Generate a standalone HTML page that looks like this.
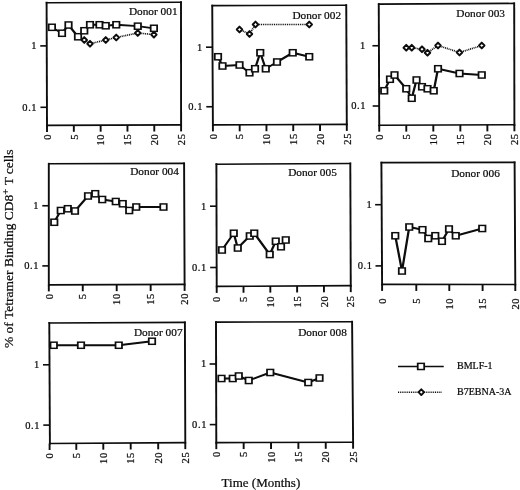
<!DOCTYPE html>
<html><head><meta charset="utf-8"><title>Tetramer binding</title>
<style>
html,body{margin:0;padding:0;background:#fff;}
body{width:520px;height:490px;overflow:hidden;font-family:"Liberation Serif",serif;}
svg{display:block;}
text{stroke:#0a0a0a;stroke-width:0.22px;}
</style></head><body>
<svg width="520" height="490" viewBox="0 0 520 490">
<rect width="520" height="490" fill="#fff"/>
<defs><filter id="soft" x="0" y="0" width="520" height="490" filterUnits="userSpaceOnUse"><feGaussianBlur stdDeviation="0.28"/></filter></defs>
<g filter="url(#soft)" font-family="Liberation Serif, serif" fill="#0a0a0a" stroke="none">
<rect width="520" height="490" fill="#fff"/>
<line x1="46.6" y1="2.7" x2="181.0" y2="2.3" stroke="#0a0a0a" stroke-width="1.6" stroke-linecap="square"/>
<line x1="47.0" y1="125.4" x2="181.1" y2="124.9" stroke="#0a0a0a" stroke-width="1.6" stroke-linecap="square"/>
<line x1="46.6" y1="2.7" x2="47.0" y2="125.4" stroke="#0a0a0a" stroke-width="1.9" stroke-linecap="square"/>
<line x1="181.0" y1="2.3" x2="181.1" y2="124.9" stroke="#0a0a0a" stroke-width="1.9" stroke-linecap="square"/>
<line x1="40.24" y1="45.9" x2="46.74" y2="45.9" stroke="#0a0a0a" stroke-width="1.6"/>
<text x="37.04" y="49.30" font-size="10.5" letter-spacing="0.6" text-anchor="end">1</text>
<line x1="40.44" y1="107.3" x2="46.94" y2="107.3" stroke="#0a0a0a" stroke-width="1.6"/>
<text x="37.24" y="110.70" font-size="10.5" letter-spacing="0.6" text-anchor="end">0.1</text>
<line x1="47.00" y1="125.40" x2="47.00" y2="131.90" stroke="#0a0a0a" stroke-width="1.9"/>
<text transform="translate(50.70,134.00) rotate(-90)" font-size="10.5" letter-spacing="0.6" text-anchor="end">0</text>
<line x1="73.82" y1="125.30" x2="73.82" y2="131.80" stroke="#0a0a0a" stroke-width="1.9"/>
<text transform="translate(77.52,133.90) rotate(-90)" font-size="10.5" letter-spacing="0.6" text-anchor="end">5</text>
<line x1="100.64" y1="125.20" x2="100.64" y2="131.70" stroke="#0a0a0a" stroke-width="1.9"/>
<text transform="translate(104.34,133.80) rotate(-90)" font-size="10.5" letter-spacing="0.6" text-anchor="end">10</text>
<line x1="127.46" y1="125.10" x2="127.46" y2="131.60" stroke="#0a0a0a" stroke-width="1.9"/>
<text transform="translate(131.16,133.70) rotate(-90)" font-size="10.5" letter-spacing="0.6" text-anchor="end">15</text>
<line x1="154.28" y1="125.00" x2="154.28" y2="131.50" stroke="#0a0a0a" stroke-width="1.9"/>
<text transform="translate(157.98,133.60) rotate(-90)" font-size="10.5" letter-spacing="0.6" text-anchor="end">20</text>
<line x1="181.10" y1="124.90" x2="181.10" y2="131.40" stroke="#0a0a0a" stroke-width="1.9"/>
<text transform="translate(184.80,133.50) rotate(-90)" font-size="10.5" letter-spacing="0.6" text-anchor="end">25</text>
<text x="128.90" y="15.3" font-size="11.3">Donor 001</text>
<line x1="84.25" y1="40" x2="90" y2="43.75" stroke="#0a0a0a" stroke-width="1.76" stroke-dasharray="1.0 0.85"/><line x1="90" y1="43.75" x2="105.75" y2="40" stroke="#0a0a0a" stroke-width="1.67" stroke-dasharray="1.0 0.85"/><line x1="105.75" y1="40" x2="116.25" y2="37.5" stroke="#0a0a0a" stroke-width="1.67" stroke-dasharray="1.0 0.85"/><line x1="116.25" y1="37.5" x2="137.75" y2="33" stroke="#0a0a0a" stroke-width="1.66" stroke-dasharray="1.0 0.85"/><line x1="137.75" y1="33" x2="153.9" y2="34.6" stroke="#0a0a0a" stroke-width="1.63" stroke-dasharray="1.0 0.85"/>
<line x1="51.9" y1="27.3" x2="62" y2="33.25" stroke="#0a0a0a" stroke-width="2.03" stroke-linecap="round"/><line x1="62" y1="33.25" x2="68.5" y2="25.0" stroke="#0a0a0a" stroke-width="2.15" stroke-linecap="round"/><line x1="68.5" y1="25.0" x2="78" y2="36.75" stroke="#0a0a0a" stroke-width="2.15" stroke-linecap="round"/><line x1="78" y1="36.75" x2="84.25" y2="30.75" stroke="#0a0a0a" stroke-width="2.11" stroke-linecap="round"/><line x1="84.25" y1="30.75" x2="90" y2="24.75" stroke="#0a0a0a" stroke-width="2.12" stroke-linecap="round"/><line x1="90" y1="24.75" x2="99.5" y2="24.75" stroke="#0a0a0a" stroke-width="1.80" stroke-linecap="round"/><line x1="99.5" y1="24.75" x2="105.75" y2="25.75" stroke="#0a0a0a" stroke-width="1.87" stroke-linecap="round"/><line x1="105.75" y1="25.75" x2="116.25" y2="24.75" stroke="#0a0a0a" stroke-width="1.84" stroke-linecap="round"/><line x1="116.25" y1="24.75" x2="137.75" y2="26.2" stroke="#0a0a0a" stroke-width="1.83" stroke-linecap="round"/><line x1="137.75" y1="26.2" x2="153.9" y2="28.3" stroke="#0a0a0a" stroke-width="1.86" stroke-linecap="round"/>
<path d="M81.50,40.00 L84.25,37.10 L87.00,40.00 L84.25,42.90 Z" fill="#fff" stroke="#0a0a0a" stroke-width="1.9" stroke-linejoin="round"/>
<path d="M87.25,43.75 L90.00,40.85 L92.75,43.75 L90.00,46.65 Z" fill="#fff" stroke="#0a0a0a" stroke-width="1.9" stroke-linejoin="round"/>
<path d="M103.00,40.00 L105.75,37.10 L108.50,40.00 L105.75,42.90 Z" fill="#fff" stroke="#0a0a0a" stroke-width="1.9" stroke-linejoin="round"/>
<path d="M113.50,37.50 L116.25,34.60 L119.00,37.50 L116.25,40.40 Z" fill="#fff" stroke="#0a0a0a" stroke-width="1.9" stroke-linejoin="round"/>
<path d="M135.00,33.00 L137.75,30.10 L140.50,33.00 L137.75,35.90 Z" fill="#fff" stroke="#0a0a0a" stroke-width="1.9" stroke-linejoin="round"/>
<path d="M151.15,34.60 L153.90,31.70 L156.65,34.60 L153.90,37.50 Z" fill="#fff" stroke="#0a0a0a" stroke-width="1.9" stroke-linejoin="round"/>
<rect x="47.80" y="23.50" width="8.20" height="7.60" fill="#0a0a0a"/><rect x="49.55" y="24.95" width="4.7" height="4.7" fill="#fff"/>
<rect x="57.90" y="29.45" width="8.20" height="7.60" fill="#0a0a0a"/><rect x="59.65" y="30.90" width="4.7" height="4.7" fill="#fff"/>
<rect x="64.40" y="21.20" width="8.20" height="7.60" fill="#0a0a0a"/><rect x="66.15" y="22.65" width="4.7" height="4.7" fill="#fff"/>
<rect x="73.90" y="32.95" width="8.20" height="7.60" fill="#0a0a0a"/><rect x="75.65" y="34.40" width="4.7" height="4.7" fill="#fff"/>
<rect x="80.15" y="26.95" width="8.20" height="7.60" fill="#0a0a0a"/><rect x="81.90" y="28.40" width="4.7" height="4.7" fill="#fff"/>
<rect x="85.90" y="20.95" width="8.20" height="7.60" fill="#0a0a0a"/><rect x="87.65" y="22.40" width="4.7" height="4.7" fill="#fff"/>
<rect x="95.40" y="20.95" width="8.20" height="7.60" fill="#0a0a0a"/><rect x="97.15" y="22.40" width="4.7" height="4.7" fill="#fff"/>
<rect x="101.65" y="21.95" width="8.20" height="7.60" fill="#0a0a0a"/><rect x="103.40" y="23.40" width="4.7" height="4.7" fill="#fff"/>
<rect x="112.15" y="20.95" width="8.20" height="7.60" fill="#0a0a0a"/><rect x="113.90" y="22.40" width="4.7" height="4.7" fill="#fff"/>
<rect x="133.65" y="22.40" width="8.20" height="7.60" fill="#0a0a0a"/><rect x="135.40" y="23.85" width="4.7" height="4.7" fill="#fff"/>
<rect x="149.80" y="24.50" width="8.20" height="7.60" fill="#0a0a0a"/><rect x="151.55" y="25.95" width="4.7" height="4.7" fill="#fff"/>
<line x1="212.25" y1="5.6" x2="346.25" y2="5.25" stroke="#0a0a0a" stroke-width="1.6" stroke-linecap="square"/>
<line x1="212.9" y1="124.9" x2="346.8" y2="124.4" stroke="#0a0a0a" stroke-width="1.6" stroke-linecap="square"/>
<line x1="212.25" y1="5.6" x2="212.9" y2="124.9" stroke="#0a0a0a" stroke-width="1.9" stroke-linecap="square"/>
<line x1="346.25" y1="5.25" x2="346.8" y2="124.4" stroke="#0a0a0a" stroke-width="1.9" stroke-linecap="square"/>
<line x1="205.98" y1="47.2" x2="212.48" y2="47.2" stroke="#0a0a0a" stroke-width="1.6"/>
<text x="202.78" y="50.60" font-size="10.5" letter-spacing="0.6" text-anchor="end">1</text>
<line x1="206.30" y1="106.75" x2="212.80" y2="106.75" stroke="#0a0a0a" stroke-width="1.6"/>
<text x="203.10" y="110.15" font-size="10.5" letter-spacing="0.6" text-anchor="end">0.1</text>
<line x1="212.90" y1="124.90" x2="212.90" y2="131.40" stroke="#0a0a0a" stroke-width="1.9"/>
<text transform="translate(216.60,133.50) rotate(-90)" font-size="10.5" letter-spacing="0.6" text-anchor="end">0</text>
<line x1="239.68" y1="124.80" x2="239.68" y2="131.30" stroke="#0a0a0a" stroke-width="1.9"/>
<text transform="translate(243.38,133.40) rotate(-90)" font-size="10.5" letter-spacing="0.6" text-anchor="end">5</text>
<line x1="266.46" y1="124.70" x2="266.46" y2="131.20" stroke="#0a0a0a" stroke-width="1.9"/>
<text transform="translate(270.16,133.30) rotate(-90)" font-size="10.5" letter-spacing="0.6" text-anchor="end">10</text>
<line x1="293.24" y1="124.60" x2="293.24" y2="131.10" stroke="#0a0a0a" stroke-width="1.9"/>
<text transform="translate(296.94,133.20) rotate(-90)" font-size="10.5" letter-spacing="0.6" text-anchor="end">15</text>
<line x1="320.02" y1="124.50" x2="320.02" y2="131.00" stroke="#0a0a0a" stroke-width="1.9"/>
<text transform="translate(323.72,133.10) rotate(-90)" font-size="10.5" letter-spacing="0.6" text-anchor="end">20</text>
<line x1="346.80" y1="124.40" x2="346.80" y2="130.90" stroke="#0a0a0a" stroke-width="1.9"/>
<text transform="translate(350.50,133.00) rotate(-90)" font-size="10.5" letter-spacing="0.6" text-anchor="end">25</text>
<text x="292.40" y="18.6" font-size="11.3">Donor 002</text>
<line x1="239.5" y1="29.5" x2="249.5" y2="34" stroke="#0a0a0a" stroke-width="1.72" stroke-dasharray="1.0 0.85"/><line x1="249.5" y1="34" x2="255.5" y2="24.5" stroke="#0a0a0a" stroke-width="1.85" stroke-dasharray="1.0 0.85"/><line x1="255.5" y1="24.5" x2="309.25" y2="24.5" stroke="#0a0a0a" stroke-width="1.60" stroke-dasharray="1.0 0.85"/>
<line x1="218" y1="56.75" x2="222.5" y2="66" stroke="#0a0a0a" stroke-width="2.20" stroke-linecap="round"/><line x1="222.5" y1="66" x2="239.5" y2="65" stroke="#0a0a0a" stroke-width="1.83" stroke-linecap="round"/><line x1="239.5" y1="65" x2="249.5" y2="72.75" stroke="#0a0a0a" stroke-width="2.08" stroke-linecap="round"/><line x1="249.5" y1="72.75" x2="255" y2="68.75" stroke="#0a0a0a" stroke-width="2.06" stroke-linecap="round"/><line x1="255" y1="68.75" x2="260.25" y2="52.75" stroke="#0a0a0a" stroke-width="2.23" stroke-linecap="round"/><line x1="260.25" y1="52.75" x2="265.75" y2="68.75" stroke="#0a0a0a" stroke-width="2.23" stroke-linecap="round"/><line x1="265.75" y1="68.75" x2="277" y2="62" stroke="#0a0a0a" stroke-width="2.03" stroke-linecap="round"/><line x1="277" y1="62" x2="292.75" y2="52.75" stroke="#0a0a0a" stroke-width="2.03" stroke-linecap="round"/><line x1="292.75" y1="52.75" x2="309.25" y2="56.75" stroke="#0a0a0a" stroke-width="1.91" stroke-linecap="round"/>
<path d="M236.75,29.50 L239.50,26.60 L242.25,29.50 L239.50,32.40 Z" fill="#fff" stroke="#0a0a0a" stroke-width="1.9" stroke-linejoin="round"/>
<path d="M246.75,34.00 L249.50,31.10 L252.25,34.00 L249.50,36.90 Z" fill="#fff" stroke="#0a0a0a" stroke-width="1.9" stroke-linejoin="round"/>
<path d="M252.75,24.50 L255.50,21.60 L258.25,24.50 L255.50,27.40 Z" fill="#fff" stroke="#0a0a0a" stroke-width="1.9" stroke-linejoin="round"/>
<path d="M306.50,24.50 L309.25,21.60 L312.00,24.50 L309.25,27.40 Z" fill="#fff" stroke="#0a0a0a" stroke-width="1.9" stroke-linejoin="round"/>
<rect x="213.90" y="52.95" width="8.20" height="7.60" fill="#0a0a0a"/><rect x="215.65" y="54.40" width="4.7" height="4.7" fill="#fff"/>
<rect x="218.40" y="62.20" width="8.20" height="7.60" fill="#0a0a0a"/><rect x="220.15" y="63.65" width="4.7" height="4.7" fill="#fff"/>
<rect x="235.40" y="61.20" width="8.20" height="7.60" fill="#0a0a0a"/><rect x="237.15" y="62.65" width="4.7" height="4.7" fill="#fff"/>
<rect x="245.40" y="68.95" width="8.20" height="7.60" fill="#0a0a0a"/><rect x="247.15" y="70.40" width="4.7" height="4.7" fill="#fff"/>
<rect x="250.90" y="64.95" width="8.20" height="7.60" fill="#0a0a0a"/><rect x="252.65" y="66.40" width="4.7" height="4.7" fill="#fff"/>
<rect x="256.15" y="48.95" width="8.20" height="7.60" fill="#0a0a0a"/><rect x="257.90" y="50.40" width="4.7" height="4.7" fill="#fff"/>
<rect x="261.65" y="64.95" width="8.20" height="7.60" fill="#0a0a0a"/><rect x="263.40" y="66.40" width="4.7" height="4.7" fill="#fff"/>
<rect x="272.90" y="58.20" width="8.20" height="7.60" fill="#0a0a0a"/><rect x="274.65" y="59.65" width="4.7" height="4.7" fill="#fff"/>
<rect x="288.65" y="48.95" width="8.20" height="7.60" fill="#0a0a0a"/><rect x="290.40" y="50.40" width="4.7" height="4.7" fill="#fff"/>
<rect x="305.15" y="52.95" width="8.20" height="7.60" fill="#0a0a0a"/><rect x="306.90" y="54.40" width="4.7" height="4.7" fill="#fff"/>
<line x1="378.75" y1="4.1" x2="514.2" y2="3.4" stroke="#0a0a0a" stroke-width="1.6" stroke-linecap="square"/>
<line x1="379.25" y1="125.2" x2="514.4" y2="124.8" stroke="#0a0a0a" stroke-width="1.6" stroke-linecap="square"/>
<line x1="378.75" y1="4.1" x2="379.25" y2="125.2" stroke="#0a0a0a" stroke-width="1.9" stroke-linecap="square"/>
<line x1="514.2" y1="3.4" x2="514.4" y2="124.8" stroke="#0a0a0a" stroke-width="1.9" stroke-linecap="square"/>
<line x1="372.42" y1="45.75" x2="378.92" y2="45.75" stroke="#0a0a0a" stroke-width="1.6"/>
<text x="365.92" y="49.15" font-size="10.5" letter-spacing="0.6" text-anchor="end">1</text>
<line x1="372.67" y1="106" x2="379.17" y2="106" stroke="#0a0a0a" stroke-width="1.6"/>
<text x="366.17" y="109.40" font-size="10.5" letter-spacing="0.6" text-anchor="end">0.1</text>
<line x1="379.25" y1="125.20" x2="379.25" y2="131.70" stroke="#0a0a0a" stroke-width="1.9"/>
<text transform="translate(382.95,133.80) rotate(-90)" font-size="10.5" letter-spacing="0.6" text-anchor="end">0</text>
<line x1="406.28" y1="125.12" x2="406.28" y2="131.62" stroke="#0a0a0a" stroke-width="1.9"/>
<text transform="translate(409.98,133.72) rotate(-90)" font-size="10.5" letter-spacing="0.6" text-anchor="end">5</text>
<line x1="433.31" y1="125.04" x2="433.31" y2="131.54" stroke="#0a0a0a" stroke-width="1.9"/>
<text transform="translate(437.01,133.64) rotate(-90)" font-size="10.5" letter-spacing="0.6" text-anchor="end">10</text>
<line x1="460.34" y1="124.96" x2="460.34" y2="131.46" stroke="#0a0a0a" stroke-width="1.9"/>
<text transform="translate(464.04,133.56) rotate(-90)" font-size="10.5" letter-spacing="0.6" text-anchor="end">15</text>
<line x1="487.37" y1="124.88" x2="487.37" y2="131.38" stroke="#0a0a0a" stroke-width="1.9"/>
<text transform="translate(491.07,133.48) rotate(-90)" font-size="10.5" letter-spacing="0.6" text-anchor="end">20</text>
<line x1="514.40" y1="124.80" x2="514.40" y2="131.30" stroke="#0a0a0a" stroke-width="1.9"/>
<text transform="translate(518.10,133.40) rotate(-90)" font-size="10.5" letter-spacing="0.6" text-anchor="end">25</text>
<text x="456.30" y="16.6" font-size="11.3">Donor 003</text>
<line x1="406.25" y1="47.75" x2="411.75" y2="47.75" stroke="#0a0a0a" stroke-width="1.60" stroke-dasharray="1.0 0.85"/><line x1="411.75" y1="47.75" x2="422" y2="49.25" stroke="#0a0a0a" stroke-width="1.64" stroke-dasharray="1.0 0.85"/><line x1="422" y1="49.25" x2="427.5" y2="52.75" stroke="#0a0a0a" stroke-width="1.76" stroke-dasharray="1.0 0.85"/><line x1="427.5" y1="52.75" x2="438" y2="45.5" stroke="#0a0a0a" stroke-width="1.77" stroke-dasharray="1.0 0.85"/><line x1="438" y1="45.5" x2="459.5" y2="52.5" stroke="#0a0a0a" stroke-width="1.69" stroke-dasharray="1.0 0.85"/><line x1="459.5" y1="52.5" x2="481.75" y2="45.5" stroke="#0a0a0a" stroke-width="1.69" stroke-dasharray="1.0 0.85"/>
<line x1="384.25" y1="90.75" x2="390" y2="79.25" stroke="#0a0a0a" stroke-width="2.20" stroke-linecap="round"/><line x1="390" y1="79.25" x2="394.5" y2="75" stroke="#0a0a0a" stroke-width="2.11" stroke-linecap="round"/><line x1="394.5" y1="75" x2="406.25" y2="88.75" stroke="#0a0a0a" stroke-width="2.14" stroke-linecap="round"/><line x1="406.25" y1="88.75" x2="411.75" y2="98.25" stroke="#0a0a0a" stroke-width="2.19" stroke-linecap="round"/><line x1="411.75" y1="98.25" x2="416.5" y2="80" stroke="#0a0a0a" stroke-width="2.24" stroke-linecap="round"/><line x1="416.5" y1="80" x2="422" y2="86.75" stroke="#0a0a0a" stroke-width="2.15" stroke-linecap="round"/><line x1="422" y1="86.75" x2="427.5" y2="88.75" stroke="#0a0a0a" stroke-width="1.95" stroke-linecap="round"/><line x1="427.5" y1="88.75" x2="433.75" y2="90.75" stroke="#0a0a0a" stroke-width="1.94" stroke-linecap="round"/><line x1="433.75" y1="90.75" x2="438" y2="68.75" stroke="#0a0a0a" stroke-width="2.24" stroke-linecap="round"/><line x1="438" y1="68.75" x2="459.5" y2="73.5" stroke="#0a0a0a" stroke-width="1.90" stroke-linecap="round"/><line x1="459.5" y1="73.5" x2="481.75" y2="75" stroke="#0a0a0a" stroke-width="1.83" stroke-linecap="round"/>
<path d="M403.50,47.75 L406.25,44.85 L409.00,47.75 L406.25,50.65 Z" fill="#fff" stroke="#0a0a0a" stroke-width="1.9" stroke-linejoin="round"/>
<path d="M409.00,47.75 L411.75,44.85 L414.50,47.75 L411.75,50.65 Z" fill="#fff" stroke="#0a0a0a" stroke-width="1.9" stroke-linejoin="round"/>
<path d="M419.25,49.25 L422.00,46.35 L424.75,49.25 L422.00,52.15 Z" fill="#fff" stroke="#0a0a0a" stroke-width="1.9" stroke-linejoin="round"/>
<path d="M424.75,52.75 L427.50,49.85 L430.25,52.75 L427.50,55.65 Z" fill="#fff" stroke="#0a0a0a" stroke-width="1.9" stroke-linejoin="round"/>
<path d="M435.25,45.50 L438.00,42.60 L440.75,45.50 L438.00,48.40 Z" fill="#fff" stroke="#0a0a0a" stroke-width="1.9" stroke-linejoin="round"/>
<path d="M456.75,52.50 L459.50,49.60 L462.25,52.50 L459.50,55.40 Z" fill="#fff" stroke="#0a0a0a" stroke-width="1.9" stroke-linejoin="round"/>
<path d="M479.00,45.50 L481.75,42.60 L484.50,45.50 L481.75,48.40 Z" fill="#fff" stroke="#0a0a0a" stroke-width="1.9" stroke-linejoin="round"/>
<rect x="380.15" y="86.95" width="8.20" height="7.60" fill="#0a0a0a"/><rect x="381.90" y="88.40" width="4.7" height="4.7" fill="#fff"/>
<rect x="385.90" y="75.45" width="8.20" height="7.60" fill="#0a0a0a"/><rect x="387.65" y="76.90" width="4.7" height="4.7" fill="#fff"/>
<rect x="390.40" y="71.20" width="8.20" height="7.60" fill="#0a0a0a"/><rect x="392.15" y="72.65" width="4.7" height="4.7" fill="#fff"/>
<rect x="402.15" y="84.95" width="8.20" height="7.60" fill="#0a0a0a"/><rect x="403.90" y="86.40" width="4.7" height="4.7" fill="#fff"/>
<rect x="407.65" y="94.45" width="8.20" height="7.60" fill="#0a0a0a"/><rect x="409.40" y="95.90" width="4.7" height="4.7" fill="#fff"/>
<rect x="412.40" y="76.20" width="8.20" height="7.60" fill="#0a0a0a"/><rect x="414.15" y="77.65" width="4.7" height="4.7" fill="#fff"/>
<rect x="417.90" y="82.95" width="8.20" height="7.60" fill="#0a0a0a"/><rect x="419.65" y="84.40" width="4.7" height="4.7" fill="#fff"/>
<rect x="423.40" y="84.95" width="8.20" height="7.60" fill="#0a0a0a"/><rect x="425.15" y="86.40" width="4.7" height="4.7" fill="#fff"/>
<rect x="429.65" y="86.95" width="8.20" height="7.60" fill="#0a0a0a"/><rect x="431.40" y="88.40" width="4.7" height="4.7" fill="#fff"/>
<rect x="433.90" y="64.95" width="8.20" height="7.60" fill="#0a0a0a"/><rect x="435.65" y="66.40" width="4.7" height="4.7" fill="#fff"/>
<rect x="455.40" y="69.70" width="8.20" height="7.60" fill="#0a0a0a"/><rect x="457.15" y="71.15" width="4.7" height="4.7" fill="#fff"/>
<rect x="477.65" y="71.20" width="8.20" height="7.60" fill="#0a0a0a"/><rect x="479.40" y="72.65" width="4.7" height="4.7" fill="#fff"/>
<line x1="48.8" y1="163.8" x2="184.1" y2="163.4" stroke="#0a0a0a" stroke-width="1.6" stroke-linecap="square"/>
<line x1="48.8" y1="284.9" x2="184.6" y2="284.4" stroke="#0a0a0a" stroke-width="1.6" stroke-linecap="square"/>
<line x1="48.8" y1="163.8" x2="48.8" y2="284.9" stroke="#0a0a0a" stroke-width="1.9" stroke-linecap="square"/>
<line x1="184.1" y1="163.4" x2="184.6" y2="284.4" stroke="#0a0a0a" stroke-width="1.9" stroke-linecap="square"/>
<line x1="42.30" y1="205.75" x2="48.80" y2="205.75" stroke="#0a0a0a" stroke-width="1.6"/>
<text x="39.10" y="209.15" font-size="10.5" letter-spacing="0.6" text-anchor="end">1</text>
<line x1="42.30" y1="265.9" x2="48.80" y2="265.9" stroke="#0a0a0a" stroke-width="1.6"/>
<text x="39.10" y="269.30" font-size="10.5" letter-spacing="0.6" text-anchor="end">0.1</text>
<line x1="48.80" y1="284.90" x2="48.80" y2="291.40" stroke="#0a0a0a" stroke-width="1.9"/>
<text transform="translate(52.50,293.50) rotate(-90)" font-size="10.5" letter-spacing="0.6" text-anchor="end">0</text>
<line x1="82.75" y1="284.77" x2="82.75" y2="291.27" stroke="#0a0a0a" stroke-width="1.9"/>
<text transform="translate(86.45,293.37) rotate(-90)" font-size="10.5" letter-spacing="0.6" text-anchor="end">5</text>
<line x1="116.70" y1="284.65" x2="116.70" y2="291.15" stroke="#0a0a0a" stroke-width="1.9"/>
<text transform="translate(120.40,293.25) rotate(-90)" font-size="10.5" letter-spacing="0.6" text-anchor="end">10</text>
<line x1="150.65" y1="284.52" x2="150.65" y2="291.02" stroke="#0a0a0a" stroke-width="1.9"/>
<text transform="translate(154.35,293.12) rotate(-90)" font-size="10.5" letter-spacing="0.6" text-anchor="end">15</text>
<line x1="184.60" y1="284.40" x2="184.60" y2="290.90" stroke="#0a0a0a" stroke-width="1.9"/>
<text transform="translate(188.30,293.00) rotate(-90)" font-size="10.5" letter-spacing="0.6" text-anchor="end">20</text>
<text x="130.20" y="174.9" font-size="11.3">Donor 004</text>
<line x1="54.25" y1="222.25" x2="60.75" y2="210.5" stroke="#0a0a0a" stroke-width="2.19" stroke-linecap="round"/><line x1="60.75" y1="210.5" x2="67.75" y2="208.75" stroke="#0a0a0a" stroke-width="1.91" stroke-linecap="round"/><line x1="67.75" y1="208.75" x2="75" y2="211" stroke="#0a0a0a" stroke-width="1.93" stroke-linecap="round"/><line x1="75" y1="211" x2="88" y2="196" stroke="#0a0a0a" stroke-width="2.14" stroke-linecap="round"/><line x1="88" y1="196" x2="95.25" y2="193.75" stroke="#0a0a0a" stroke-width="1.93" stroke-linecap="round"/><line x1="95.25" y1="193.75" x2="102.25" y2="199.5" stroke="#0a0a0a" stroke-width="2.09" stroke-linecap="round"/><line x1="102.25" y1="199.5" x2="115.75" y2="201.5" stroke="#0a0a0a" stroke-width="1.87" stroke-linecap="round"/><line x1="115.75" y1="201.5" x2="122.75" y2="203.75" stroke="#0a0a0a" stroke-width="1.94" stroke-linecap="round"/><line x1="122.75" y1="203.75" x2="129.25" y2="210.5" stroke="#0a0a0a" stroke-width="2.12" stroke-linecap="round"/><line x1="129.25" y1="210.5" x2="136.25" y2="207" stroke="#0a0a0a" stroke-width="2.00" stroke-linecap="round"/><line x1="136.25" y1="207" x2="163.5" y2="207" stroke="#0a0a0a" stroke-width="1.80" stroke-linecap="round"/>
<rect x="50.15" y="218.45" width="8.20" height="7.60" fill="#0a0a0a"/><rect x="51.90" y="219.90" width="4.7" height="4.7" fill="#fff"/>
<rect x="56.65" y="206.70" width="8.20" height="7.60" fill="#0a0a0a"/><rect x="58.40" y="208.15" width="4.7" height="4.7" fill="#fff"/>
<rect x="63.65" y="204.95" width="8.20" height="7.60" fill="#0a0a0a"/><rect x="65.40" y="206.40" width="4.7" height="4.7" fill="#fff"/>
<rect x="70.90" y="207.20" width="8.20" height="7.60" fill="#0a0a0a"/><rect x="72.65" y="208.65" width="4.7" height="4.7" fill="#fff"/>
<rect x="83.90" y="192.20" width="8.20" height="7.60" fill="#0a0a0a"/><rect x="85.65" y="193.65" width="4.7" height="4.7" fill="#fff"/>
<rect x="91.15" y="189.95" width="8.20" height="7.60" fill="#0a0a0a"/><rect x="92.90" y="191.40" width="4.7" height="4.7" fill="#fff"/>
<rect x="98.15" y="195.70" width="8.20" height="7.60" fill="#0a0a0a"/><rect x="99.90" y="197.15" width="4.7" height="4.7" fill="#fff"/>
<rect x="111.65" y="197.70" width="8.20" height="7.60" fill="#0a0a0a"/><rect x="113.40" y="199.15" width="4.7" height="4.7" fill="#fff"/>
<rect x="118.65" y="199.95" width="8.20" height="7.60" fill="#0a0a0a"/><rect x="120.40" y="201.40" width="4.7" height="4.7" fill="#fff"/>
<rect x="125.15" y="206.70" width="8.20" height="7.60" fill="#0a0a0a"/><rect x="126.90" y="208.15" width="4.7" height="4.7" fill="#fff"/>
<rect x="132.15" y="203.20" width="8.20" height="7.60" fill="#0a0a0a"/><rect x="133.90" y="204.65" width="4.7" height="4.7" fill="#fff"/>
<rect x="159.40" y="203.20" width="8.20" height="7.60" fill="#0a0a0a"/><rect x="161.15" y="204.65" width="4.7" height="4.7" fill="#fff"/>
<line x1="216.4" y1="164.2" x2="350.3" y2="163.45" stroke="#0a0a0a" stroke-width="1.6" stroke-linecap="square"/>
<line x1="216.7" y1="286.4" x2="350.75" y2="285.65" stroke="#0a0a0a" stroke-width="1.6" stroke-linecap="square"/>
<line x1="216.4" y1="164.2" x2="216.7" y2="286.4" stroke="#0a0a0a" stroke-width="1.9" stroke-linecap="square"/>
<line x1="350.3" y1="163.45" x2="350.75" y2="285.65" stroke="#0a0a0a" stroke-width="1.9" stroke-linecap="square"/>
<line x1="210.00" y1="206.2" x2="216.50" y2="206.2" stroke="#0a0a0a" stroke-width="1.6"/>
<text x="206.80" y="209.60" font-size="10.5" letter-spacing="0.6" text-anchor="end">1</text>
<line x1="210.15" y1="267.5" x2="216.65" y2="267.5" stroke="#0a0a0a" stroke-width="1.6"/>
<text x="206.95" y="270.90" font-size="10.5" letter-spacing="0.6" text-anchor="end">0.1</text>
<line x1="216.70" y1="286.40" x2="216.70" y2="292.90" stroke="#0a0a0a" stroke-width="1.9"/>
<text transform="translate(220.40,296.20) rotate(-90)" font-size="10.5" letter-spacing="0.6" text-anchor="end">0</text>
<line x1="243.51" y1="286.25" x2="243.51" y2="292.75" stroke="#0a0a0a" stroke-width="1.9"/>
<text transform="translate(247.21,296.05) rotate(-90)" font-size="10.5" letter-spacing="0.6" text-anchor="end">5</text>
<line x1="270.32" y1="286.10" x2="270.32" y2="292.60" stroke="#0a0a0a" stroke-width="1.9"/>
<text transform="translate(274.02,295.90) rotate(-90)" font-size="10.5" letter-spacing="0.6" text-anchor="end">10</text>
<line x1="297.13" y1="285.95" x2="297.13" y2="292.45" stroke="#0a0a0a" stroke-width="1.9"/>
<text transform="translate(300.83,295.75) rotate(-90)" font-size="10.5" letter-spacing="0.6" text-anchor="end">15</text>
<line x1="323.94" y1="285.80" x2="323.94" y2="292.30" stroke="#0a0a0a" stroke-width="1.9"/>
<text transform="translate(327.64,295.60) rotate(-90)" font-size="10.5" letter-spacing="0.6" text-anchor="end">20</text>
<line x1="350.75" y1="285.65" x2="350.75" y2="292.15" stroke="#0a0a0a" stroke-width="1.9"/>
<text transform="translate(354.45,295.45) rotate(-90)" font-size="10.5" letter-spacing="0.6" text-anchor="end">25</text>
<text x="288.15" y="175.5" font-size="11.3">Donor 005</text>
<line x1="222" y1="250" x2="233.75" y2="233.25" stroke="#0a0a0a" stroke-width="2.17" stroke-linecap="round"/><line x1="233.75" y1="233.25" x2="237.75" y2="248" stroke="#0a0a0a" stroke-width="2.23" stroke-linecap="round"/><line x1="237.75" y1="248" x2="249.75" y2="236" stroke="#0a0a0a" stroke-width="2.12" stroke-linecap="round"/><line x1="249.75" y1="236" x2="254.25" y2="233.25" stroke="#0a0a0a" stroke-width="2.03" stroke-linecap="round"/><line x1="254.25" y1="233.25" x2="269.75" y2="254.5" stroke="#0a0a0a" stroke-width="2.16" stroke-linecap="round"/><line x1="269.75" y1="254.5" x2="275.75" y2="241.25" stroke="#0a0a0a" stroke-width="2.21" stroke-linecap="round"/><line x1="275.75" y1="241.25" x2="281" y2="246.75" stroke="#0a0a0a" stroke-width="2.13" stroke-linecap="round"/><line x1="281" y1="246.75" x2="285.75" y2="240" stroke="#0a0a0a" stroke-width="2.17" stroke-linecap="round"/>
<rect x="217.90" y="246.20" width="8.20" height="7.60" fill="#0a0a0a"/><rect x="219.65" y="247.65" width="4.7" height="4.7" fill="#fff"/>
<rect x="229.65" y="229.45" width="8.20" height="7.60" fill="#0a0a0a"/><rect x="231.40" y="230.90" width="4.7" height="4.7" fill="#fff"/>
<rect x="233.65" y="244.20" width="8.20" height="7.60" fill="#0a0a0a"/><rect x="235.40" y="245.65" width="4.7" height="4.7" fill="#fff"/>
<rect x="245.65" y="232.20" width="8.20" height="7.60" fill="#0a0a0a"/><rect x="247.40" y="233.65" width="4.7" height="4.7" fill="#fff"/>
<rect x="250.15" y="229.45" width="8.20" height="7.60" fill="#0a0a0a"/><rect x="251.90" y="230.90" width="4.7" height="4.7" fill="#fff"/>
<rect x="265.65" y="250.70" width="8.20" height="7.60" fill="#0a0a0a"/><rect x="267.40" y="252.15" width="4.7" height="4.7" fill="#fff"/>
<rect x="271.65" y="237.45" width="8.20" height="7.60" fill="#0a0a0a"/><rect x="273.40" y="238.90" width="4.7" height="4.7" fill="#fff"/>
<rect x="276.90" y="242.95" width="8.20" height="7.60" fill="#0a0a0a"/><rect x="278.65" y="244.40" width="4.7" height="4.7" fill="#fff"/>
<rect x="281.65" y="236.20" width="8.20" height="7.60" fill="#0a0a0a"/><rect x="283.40" y="237.65" width="4.7" height="4.7" fill="#fff"/>
<line x1="381.4" y1="162.6" x2="514.6" y2="162.4" stroke="#0a0a0a" stroke-width="1.6" stroke-linecap="square"/>
<line x1="382.1" y1="284.4" x2="515.3" y2="284.5" stroke="#0a0a0a" stroke-width="1.6" stroke-linecap="square"/>
<line x1="381.4" y1="162.6" x2="382.1" y2="284.4" stroke="#0a0a0a" stroke-width="1.9" stroke-linecap="square"/>
<line x1="514.6" y1="162.4" x2="515.3" y2="284.5" stroke="#0a0a0a" stroke-width="1.9" stroke-linecap="square"/>
<line x1="375.14" y1="204.7" x2="381.64" y2="204.7" stroke="#0a0a0a" stroke-width="1.6"/>
<text x="372.24" y="208.10" font-size="10.5" letter-spacing="0.6" text-anchor="end">1</text>
<line x1="375.49" y1="265.9" x2="381.99" y2="265.9" stroke="#0a0a0a" stroke-width="1.6"/>
<text x="372.59" y="269.30" font-size="10.5" letter-spacing="0.6" text-anchor="end">0.1</text>
<line x1="382.10" y1="284.40" x2="382.10" y2="290.90" stroke="#0a0a0a" stroke-width="1.9"/>
<text transform="translate(385.80,297.80) rotate(-90)" font-size="10.5" letter-spacing="0.6" text-anchor="end">0</text>
<line x1="416.30" y1="284.42" x2="416.30" y2="290.92" stroke="#0a0a0a" stroke-width="1.9"/>
<text transform="translate(420.00,297.82) rotate(-90)" font-size="10.5" letter-spacing="0.6" text-anchor="end">5</text>
<line x1="449.30" y1="284.45" x2="449.30" y2="290.95" stroke="#0a0a0a" stroke-width="1.9"/>
<text transform="translate(453.00,297.85) rotate(-90)" font-size="10.5" letter-spacing="0.6" text-anchor="end">10</text>
<line x1="482.60" y1="284.48" x2="482.60" y2="290.98" stroke="#0a0a0a" stroke-width="1.9"/>
<text transform="translate(486.30,297.88) rotate(-90)" font-size="10.5" letter-spacing="0.6" text-anchor="end">15</text>
<line x1="515.30" y1="284.50" x2="515.30" y2="291.00" stroke="#0a0a0a" stroke-width="1.9"/>
<text transform="translate(519.00,297.90) rotate(-90)" font-size="10.5" letter-spacing="0.6" text-anchor="end">20</text>
<text x="451.15" y="176.9" font-size="11.3">Donor 006</text>
<line x1="395.25" y1="235.75" x2="402" y2="271" stroke="#0a0a0a" stroke-width="2.24" stroke-linecap="round"/><line x1="402" y1="271" x2="409.25" y2="227" stroke="#0a0a0a" stroke-width="2.24" stroke-linecap="round"/><line x1="409.25" y1="227" x2="422.5" y2="229.75" stroke="#0a0a0a" stroke-width="1.89" stroke-linecap="round"/><line x1="422.5" y1="229.75" x2="428.25" y2="238.5" stroke="#0a0a0a" stroke-width="2.18" stroke-linecap="round"/><line x1="428.25" y1="238.5" x2="435.25" y2="235.75" stroke="#0a0a0a" stroke-width="1.96" stroke-linecap="round"/><line x1="435.25" y1="235.75" x2="442" y2="241.25" stroke="#0a0a0a" stroke-width="2.08" stroke-linecap="round"/><line x1="442" y1="241.25" x2="449" y2="229" stroke="#0a0a0a" stroke-width="2.19" stroke-linecap="round"/><line x1="449" y1="229" x2="455.75" y2="235.75" stroke="#0a0a0a" stroke-width="2.12" stroke-linecap="round"/><line x1="455.75" y1="235.75" x2="482.25" y2="228.5" stroke="#0a0a0a" stroke-width="1.92" stroke-linecap="round"/>
<rect x="391.15" y="231.95" width="8.20" height="7.60" fill="#0a0a0a"/><rect x="392.90" y="233.40" width="4.7" height="4.7" fill="#fff"/>
<rect x="397.90" y="267.20" width="8.20" height="7.60" fill="#0a0a0a"/><rect x="399.65" y="268.65" width="4.7" height="4.7" fill="#fff"/>
<rect x="405.15" y="223.20" width="8.20" height="7.60" fill="#0a0a0a"/><rect x="406.90" y="224.65" width="4.7" height="4.7" fill="#fff"/>
<rect x="418.40" y="225.95" width="8.20" height="7.60" fill="#0a0a0a"/><rect x="420.15" y="227.40" width="4.7" height="4.7" fill="#fff"/>
<rect x="424.15" y="234.70" width="8.20" height="7.60" fill="#0a0a0a"/><rect x="425.90" y="236.15" width="4.7" height="4.7" fill="#fff"/>
<rect x="431.15" y="231.95" width="8.20" height="7.60" fill="#0a0a0a"/><rect x="432.90" y="233.40" width="4.7" height="4.7" fill="#fff"/>
<rect x="437.90" y="237.45" width="8.20" height="7.60" fill="#0a0a0a"/><rect x="439.65" y="238.90" width="4.7" height="4.7" fill="#fff"/>
<rect x="444.90" y="225.20" width="8.20" height="7.60" fill="#0a0a0a"/><rect x="446.65" y="226.65" width="4.7" height="4.7" fill="#fff"/>
<rect x="451.65" y="231.95" width="8.20" height="7.60" fill="#0a0a0a"/><rect x="453.40" y="233.40" width="4.7" height="4.7" fill="#fff"/>
<rect x="478.15" y="224.70" width="8.20" height="7.60" fill="#0a0a0a"/><rect x="479.90" y="226.15" width="4.7" height="4.7" fill="#fff"/>
<line x1="49.3" y1="323.0" x2="184.9" y2="322.4" stroke="#0a0a0a" stroke-width="1.6" stroke-linecap="square"/>
<line x1="49.9" y1="443.5" x2="185.3" y2="442.65" stroke="#0a0a0a" stroke-width="1.6" stroke-linecap="square"/>
<line x1="49.3" y1="323.0" x2="49.9" y2="443.5" stroke="#0a0a0a" stroke-width="1.9" stroke-linecap="square"/>
<line x1="184.9" y1="322.4" x2="185.3" y2="442.65" stroke="#0a0a0a" stroke-width="1.9" stroke-linecap="square"/>
<line x1="43.01" y1="364.8" x2="49.51" y2="364.8" stroke="#0a0a0a" stroke-width="1.6"/>
<text x="39.81" y="368.20" font-size="10.5" letter-spacing="0.6" text-anchor="end">1</text>
<line x1="43.31" y1="425.1" x2="49.81" y2="425.1" stroke="#0a0a0a" stroke-width="1.6"/>
<text x="40.11" y="428.50" font-size="10.5" letter-spacing="0.6" text-anchor="end">0.1</text>
<line x1="49.60" y1="443.50" x2="49.60" y2="450.00" stroke="#0a0a0a" stroke-width="1.9"/>
<text transform="translate(53.30,452.60) rotate(-90)" font-size="10.5" letter-spacing="0.6" text-anchor="end">0</text>
<line x1="76.30" y1="443.33" x2="76.30" y2="449.83" stroke="#0a0a0a" stroke-width="1.9"/>
<text transform="translate(80.00,452.43) rotate(-90)" font-size="10.5" letter-spacing="0.6" text-anchor="end">5</text>
<line x1="103.30" y1="443.16" x2="103.30" y2="449.66" stroke="#0a0a0a" stroke-width="1.9"/>
<text transform="translate(107.00,452.26) rotate(-90)" font-size="10.5" letter-spacing="0.6" text-anchor="end">10</text>
<line x1="130.70" y1="442.99" x2="130.70" y2="449.49" stroke="#0a0a0a" stroke-width="1.9"/>
<text transform="translate(134.40,452.09) rotate(-90)" font-size="10.5" letter-spacing="0.6" text-anchor="end">15</text>
<line x1="158.20" y1="442.82" x2="158.20" y2="449.32" stroke="#0a0a0a" stroke-width="1.9"/>
<text transform="translate(161.90,451.92) rotate(-90)" font-size="10.5" letter-spacing="0.6" text-anchor="end">20</text>
<line x1="185.30" y1="442.65" x2="185.30" y2="449.15" stroke="#0a0a0a" stroke-width="1.9"/>
<text transform="translate(189.00,451.75) rotate(-90)" font-size="10.5" letter-spacing="0.6" text-anchor="end">25</text>
<text x="133.90" y="335.5" font-size="11.3">Donor 007</text>
<line x1="53.75" y1="345.25" x2="81" y2="345.25" stroke="#0a0a0a" stroke-width="1.80" stroke-linecap="round"/><line x1="81" y1="345.25" x2="118.75" y2="345.25" stroke="#0a0a0a" stroke-width="1.80" stroke-linecap="round"/><line x1="118.75" y1="345.25" x2="152" y2="341.25" stroke="#0a0a0a" stroke-width="1.85" stroke-linecap="round"/>
<rect x="49.65" y="341.45" width="8.20" height="7.60" fill="#0a0a0a"/><rect x="51.40" y="342.90" width="4.7" height="4.7" fill="#fff"/>
<rect x="76.90" y="341.45" width="8.20" height="7.60" fill="#0a0a0a"/><rect x="78.65" y="342.90" width="4.7" height="4.7" fill="#fff"/>
<rect x="114.65" y="341.45" width="8.20" height="7.60" fill="#0a0a0a"/><rect x="116.40" y="342.90" width="4.7" height="4.7" fill="#fff"/>
<rect x="147.90" y="337.45" width="8.20" height="7.60" fill="#0a0a0a"/><rect x="149.65" y="338.90" width="4.7" height="4.7" fill="#fff"/>
<line x1="216.0" y1="322.1" x2="352.1" y2="321.7" stroke="#0a0a0a" stroke-width="1.6" stroke-linecap="square"/>
<line x1="216.3" y1="442.65" x2="353.1" y2="442.2" stroke="#0a0a0a" stroke-width="1.6" stroke-linecap="square"/>
<line x1="216.0" y1="322.1" x2="216.3" y2="442.65" stroke="#0a0a0a" stroke-width="1.9" stroke-linecap="square"/>
<line x1="352.1" y1="321.7" x2="353.1" y2="442.2" stroke="#0a0a0a" stroke-width="1.9" stroke-linecap="square"/>
<line x1="209.60" y1="364.0" x2="216.10" y2="364.0" stroke="#0a0a0a" stroke-width="1.6"/>
<text x="206.90" y="367.40" font-size="10.5" letter-spacing="0.6" text-anchor="end">1</text>
<line x1="209.76" y1="424.6" x2="216.26" y2="424.6" stroke="#0a0a0a" stroke-width="1.6"/>
<text x="207.06" y="428.00" font-size="10.5" letter-spacing="0.6" text-anchor="end">0.1</text>
<line x1="216.30" y1="442.65" x2="216.30" y2="449.15" stroke="#0a0a0a" stroke-width="1.9"/>
<text transform="translate(220.00,451.25) rotate(-90)" font-size="10.5" letter-spacing="0.6" text-anchor="end">0</text>
<line x1="243.66" y1="442.56" x2="243.66" y2="449.06" stroke="#0a0a0a" stroke-width="1.9"/>
<text transform="translate(247.36,451.16) rotate(-90)" font-size="10.5" letter-spacing="0.6" text-anchor="end">5</text>
<line x1="271.02" y1="442.47" x2="271.02" y2="448.97" stroke="#0a0a0a" stroke-width="1.9"/>
<text transform="translate(274.72,451.07) rotate(-90)" font-size="10.5" letter-spacing="0.6" text-anchor="end">10</text>
<line x1="298.38" y1="442.38" x2="298.38" y2="448.88" stroke="#0a0a0a" stroke-width="1.9"/>
<text transform="translate(302.08,450.98) rotate(-90)" font-size="10.5" letter-spacing="0.6" text-anchor="end">15</text>
<line x1="325.74" y1="442.29" x2="325.74" y2="448.79" stroke="#0a0a0a" stroke-width="1.9"/>
<text transform="translate(329.44,450.89) rotate(-90)" font-size="10.5" letter-spacing="0.6" text-anchor="end">20</text>
<line x1="353.10" y1="442.20" x2="353.10" y2="448.70" stroke="#0a0a0a" stroke-width="1.9"/>
<text transform="translate(356.80,450.80) rotate(-90)" font-size="10.5" letter-spacing="0.6" text-anchor="end">25</text>
<text x="298.15" y="335.5" font-size="11.3">Donor 008</text>
<line x1="221.5" y1="378.5" x2="232.75" y2="378.5" stroke="#0a0a0a" stroke-width="1.80" stroke-linecap="round"/><line x1="232.75" y1="378.5" x2="238.75" y2="376" stroke="#0a0a0a" stroke-width="1.97" stroke-linecap="round"/><line x1="238.75" y1="376" x2="248.75" y2="380.5" stroke="#0a0a0a" stroke-width="1.98" stroke-linecap="round"/><line x1="248.75" y1="380.5" x2="270.25" y2="372.5" stroke="#0a0a0a" stroke-width="1.96" stroke-linecap="round"/><line x1="270.25" y1="372.5" x2="308.25" y2="382.5" stroke="#0a0a0a" stroke-width="1.91" stroke-linecap="round"/><line x1="308.25" y1="382.5" x2="319.5" y2="378" stroke="#0a0a0a" stroke-width="1.97" stroke-linecap="round"/>
<rect x="217.40" y="374.70" width="8.20" height="7.60" fill="#0a0a0a"/><rect x="219.15" y="376.15" width="4.7" height="4.7" fill="#fff"/>
<rect x="228.65" y="374.70" width="8.20" height="7.60" fill="#0a0a0a"/><rect x="230.40" y="376.15" width="4.7" height="4.7" fill="#fff"/>
<rect x="234.65" y="372.20" width="8.20" height="7.60" fill="#0a0a0a"/><rect x="236.40" y="373.65" width="4.7" height="4.7" fill="#fff"/>
<rect x="244.65" y="376.70" width="8.20" height="7.60" fill="#0a0a0a"/><rect x="246.40" y="378.15" width="4.7" height="4.7" fill="#fff"/>
<rect x="266.15" y="368.70" width="8.20" height="7.60" fill="#0a0a0a"/><rect x="267.90" y="370.15" width="4.7" height="4.7" fill="#fff"/>
<rect x="304.15" y="378.70" width="8.20" height="7.60" fill="#0a0a0a"/><rect x="305.90" y="380.15" width="4.7" height="4.7" fill="#fff"/>
<rect x="315.40" y="374.20" width="8.20" height="7.60" fill="#0a0a0a"/><rect x="317.15" y="375.65" width="4.7" height="4.7" fill="#fff"/>
<line x1="398" y1="366.5" x2="443.75" y2="366.5" stroke="#0a0a0a" stroke-width="1.45"/>
<rect x="416.85" y="362.65" width="8.20" height="7.60" fill="#0a0a0a"/><rect x="418.60" y="364.10" width="4.7" height="4.7" fill="#fff"/>
<text x="457" y="369.3" font-size="10">BMLF-1</text>
<line x1="398" y1="392.2" x2="441.5" y2="392.2" stroke="#0a0a0a" stroke-width="1.6" stroke-dasharray="1.0 0.85"/>
<path d="M418.55,392.20 L421.30,389.30 L424.05,392.20 L421.30,395.10 Z" fill="#fff" stroke="#0a0a0a" stroke-width="1.9" stroke-linejoin="round"/>
<text x="457" y="395" font-size="10">B7EBNA-3A</text>
<text x="221.6" y="486.5" font-size="13">Time (Months)</text>
<text transform="translate(12.8,348.0) rotate(-90)" font-size="13.5">% of Tetramer Binding CD8<tspan font-size="10.5" dy="-4.2">+</tspan><tspan dy="4.2" dx="0.35"> T</tspan><tspan dx="-0.25"> cells</tspan></text>
</g></svg>
</body></html>
